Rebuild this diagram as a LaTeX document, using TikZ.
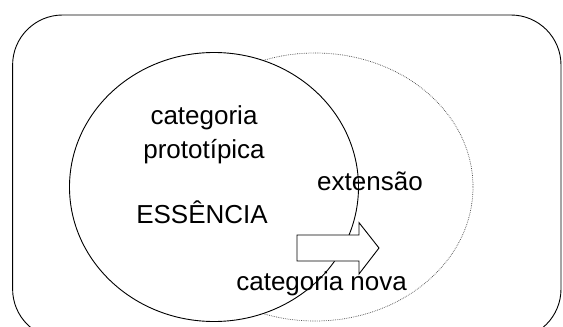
\documentclass[tikz,border=0pt]{standalone}
\usepackage{fontspec}
\setmainfont{Liberation Sans}
\usepackage{tikz}

\begin{document}
\begin{tikzpicture}[x = 1pt, y = -1pt, line width = .9pt]
    \useasboundingbox (0,0) rectangle (563,327);
    % frame
    \draw[rounded corners = 50pt] (12.6,15) rectangle (561,339);
    % new category (dotted) and prototype (solid, on top)
    \draw[black!75, line width = .7pt, dash pattern = on .7pt off 1.1pt] (315,187) ellipse [x radius = 158, y radius = 134];
    \draw[fill = white] (214,187) ellipse [x radius = 144.5, y radius = 134.5];
    % arrow
    \draw[fill = white] (297,235) -- (359,235) -- (359,222.6) -- (379,248) -- (359,274) -- (359,261) -- (297,261) -- cycle;
    \node[anchor = base, font = \fontsize{26}{33}\selectfont, inner sep = 0] (cat) at (204,124) {categoria};
    \node[anchor = base, font = \fontsize{26}{33}\selectfont, inner sep = 0] (proto) at (204,158) {prototípica};
    \node[anchor = base, font = \fontsize{26}{33}\selectfont, inner sep = 0] (ess) at (202,223.3) {ESSÊNCIA};
    \node[anchor = base, font = \fontsize{26}{33}\selectfont, inner sep = 0] (ext) at (370,190) {extensão};
    \node[anchor = base, font = \fontsize{26}{33}\selectfont, inner sep = 0] (nova) at (321.6,290) {categoria nova};
\end{tikzpicture}
\end{document}
